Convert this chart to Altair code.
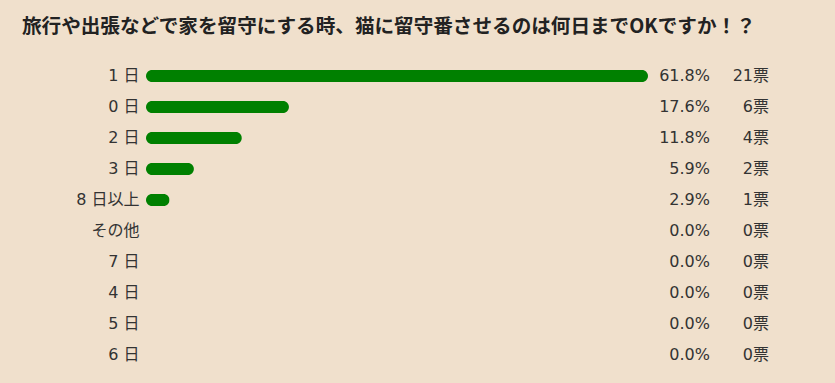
import altair as alt
import pandas as pd

categories = ["1 日", "0 日", "2 日", "3 日", "8 日以上", "その他", "7 日", "4 日", "5 日", "6 日"]
percents = [61.8, 17.6, 11.8, 5.9, 2.9, 0.0, 0.0, 0.0, 0.0, 0.0]
votes = [21, 6, 4, 2, 1, 0, 0, 0, 0, 0]
title_text = "旅行や出張などで家を留守にする時、猫に留守番させるのは何日までOKですか！？"

df = pd.DataFrame({
    "cat": categories,
    "pct": percents,
    "votes": votes,
    "pct_label": [f"{p:.1f}%" for p in percents],
    "vote_label": [f"{v}票" for v in votes],
})

FONT = "DejaVu Sans, Noto Sans CJK JP"
TXT = "#333333"
BG = "#F0E0CC"
FS = 16

y = alt.Y("cat:N", sort=categories, title=None,
          scale=alt.Scale(paddingInner=0, paddingOuter=0),
          axis=alt.Axis(domain=False, ticks=False, labelPadding=7,
                        labelFontSize=FS, labelColor=TXT, labelFont=FONT))

bars = alt.Chart(df).mark_bar(color="#008000", size=12, cornerRadius=6).encode(
    x=alt.X("pct:Q", axis=None, scale=alt.Scale(domain=[0, 61.8], range=[0, 502], nice=False)),
    y=y,
)

pct_text = alt.Chart(df).mark_text(align="right", baseline="middle", fontSize=FS,
                                   font=FONT, color=TXT).encode(
    x=alt.value(564), y=y, text="pct_label:N")

vote_text = alt.Chart(df).mark_text(align="right", baseline="middle", fontSize=FS,
                                    font=FONT, color=TXT).encode(
    x=alt.value(623), y=y, text="vote_label:N")

chart = alt.layer(bars, pct_text, vote_text).properties(
    width=623, height=310,
    autosize=alt.AutoSizeParams(type="none"),
    padding={"left": 146, "top": 60.5, "right": 66, "bottom": 12.5},
    background=BG,
    title=alt.TitleParams(title_text, anchor="start", frame="group", dx=-124,
                          fontSize=19.6, font="Noto Sans CJK JP", fontWeight="bold",
                          color="#222222", offset=23),
).configure_view(stroke=None)

chart.save("out.html", embed_options={"renderer": "svg", "actions": False})
